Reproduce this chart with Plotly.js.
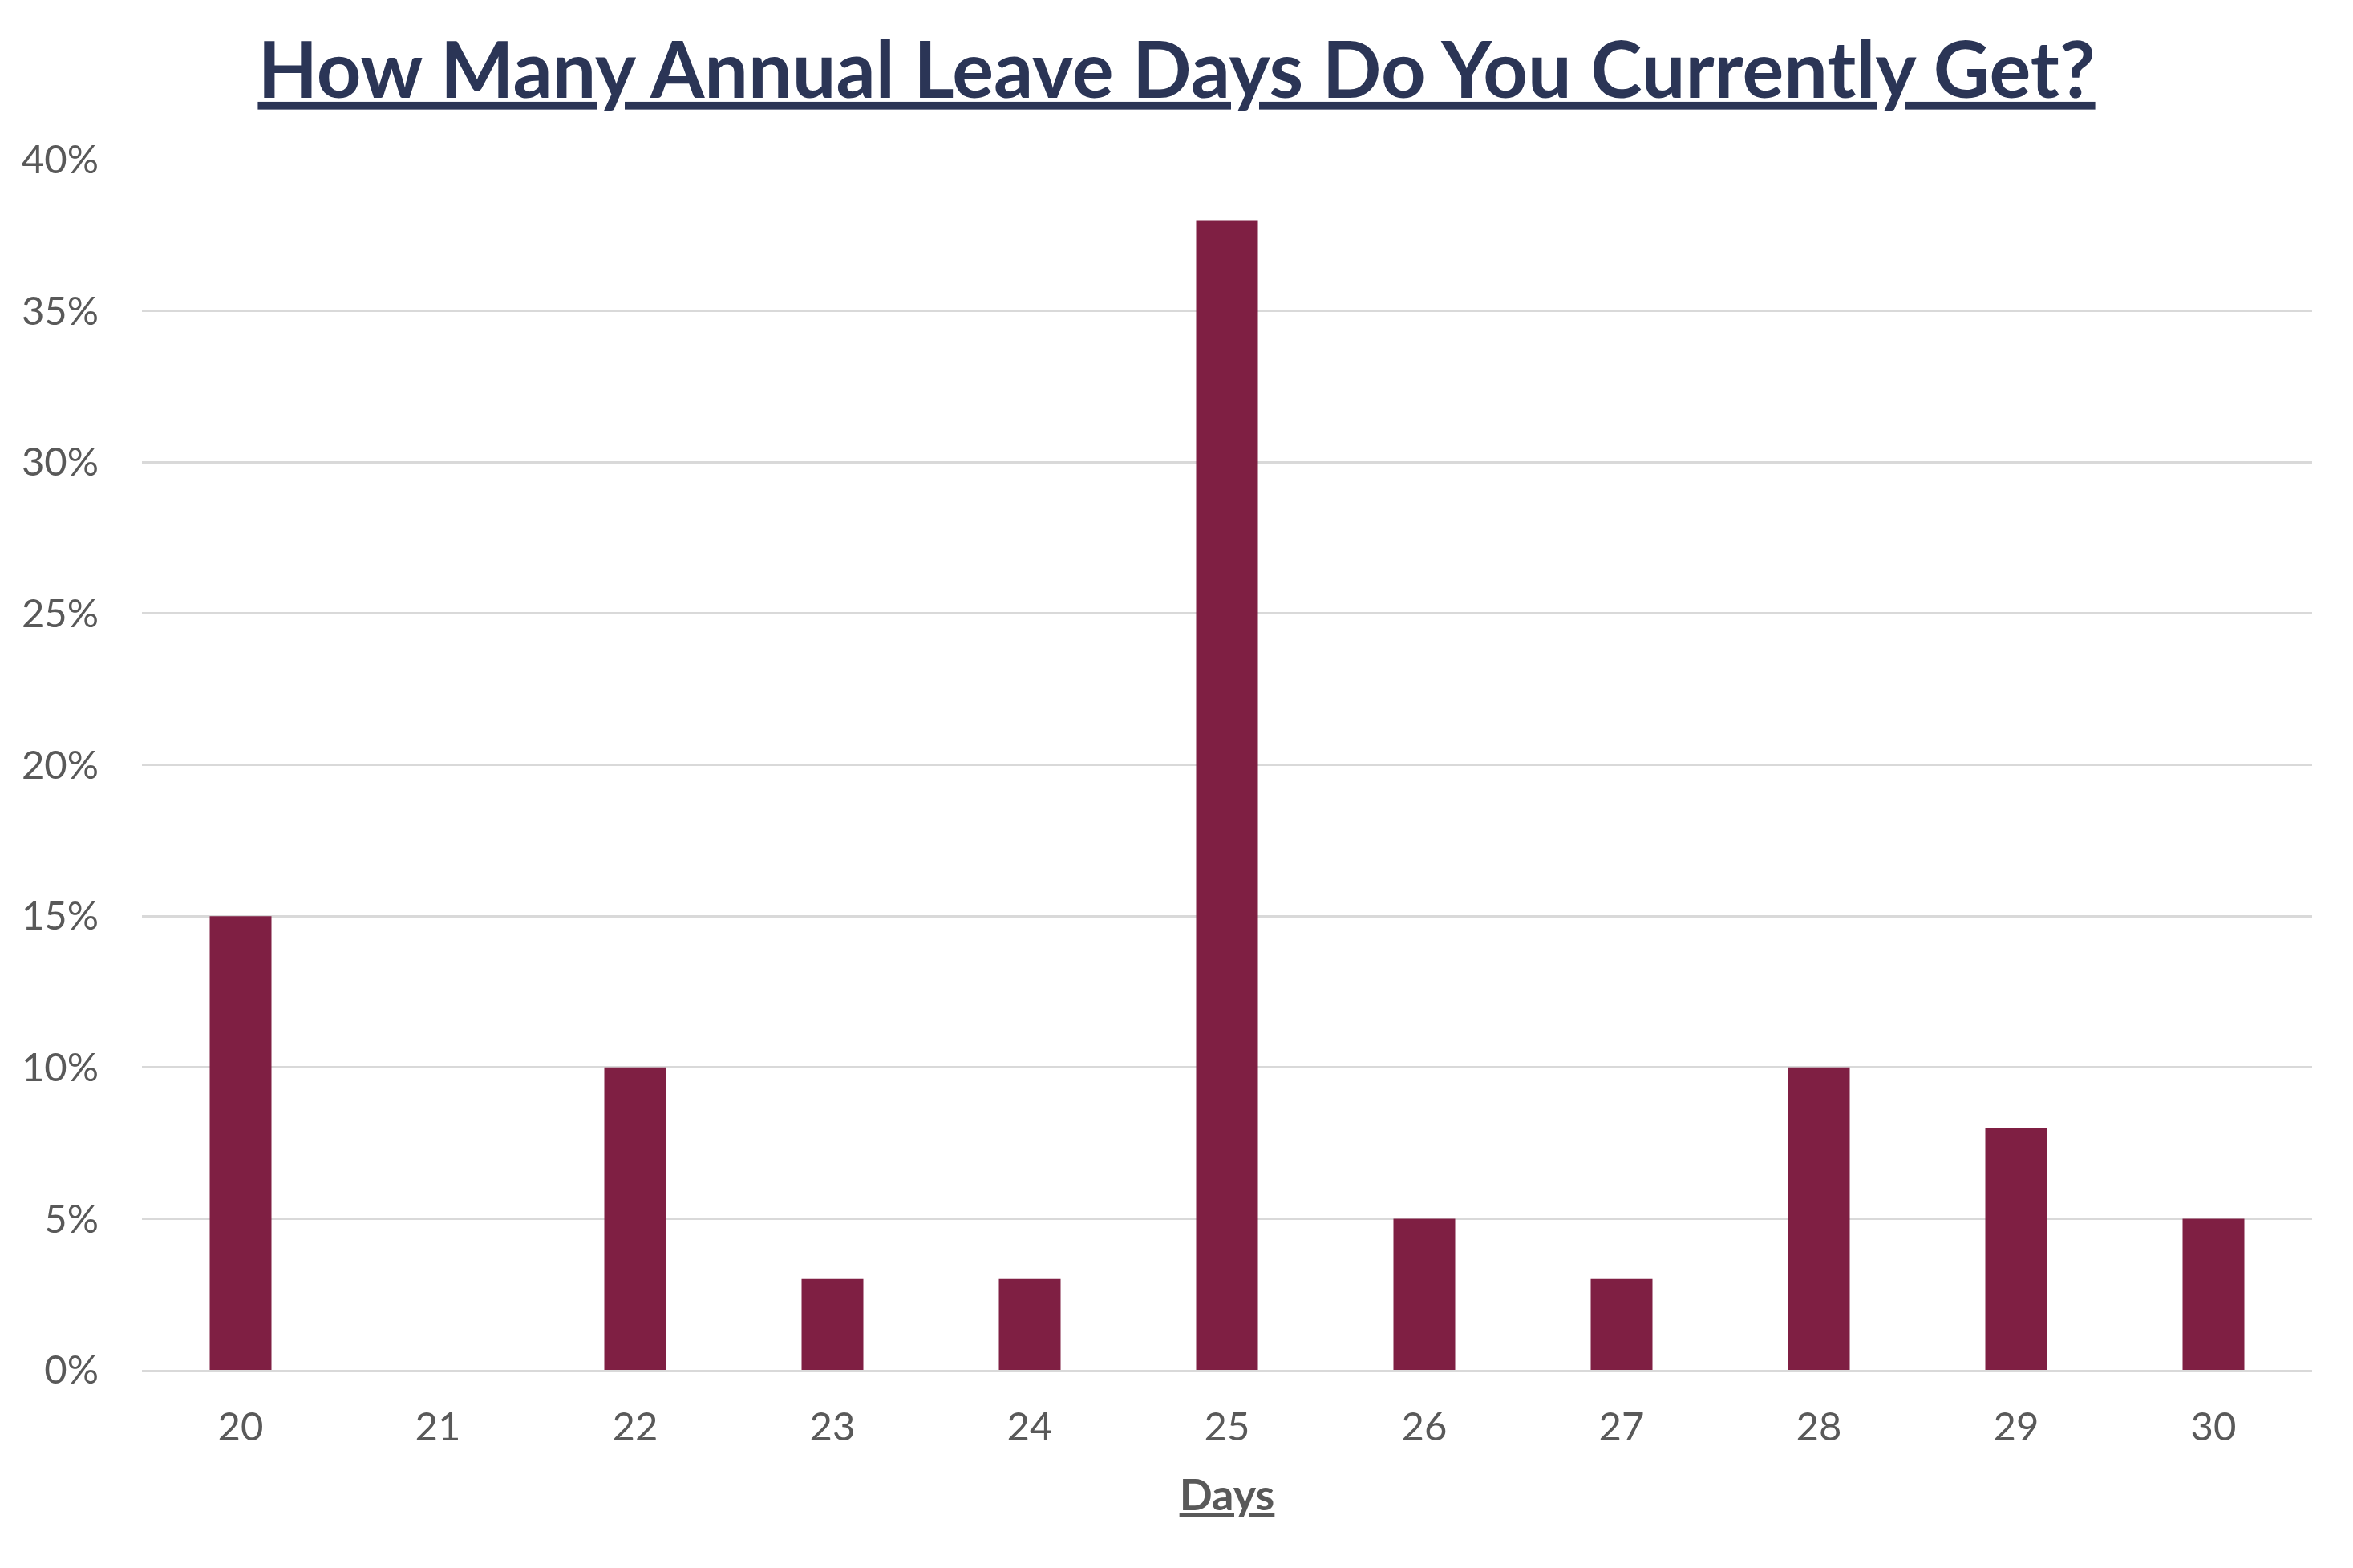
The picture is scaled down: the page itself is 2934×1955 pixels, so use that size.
<!DOCTYPE html>
<html>
<head>
<meta charset="utf-8">
<script src="https://cdn.plot.ly/plotly-3.0.1.min.js"></script>
<style>
  html, body { margin: 0; padding: 0; background: #ffffff; }
  #chart { width: 2934px; height: 1955px; }
</style>
</head>
<body>
<div id="chart"></div>
<script>

// Annual leave days and share of respondents (%)
const days = ["20", "21", "22", "23", "24", "25", "26", "27", "28", "29", "30"];
const share = [15, 0, 10, 3, 3, 38, 5, 3, 10, 8, 5];

// Y axis ticks
const ytickvals = [0, 5, 10, 15, 20, 25, 30, 35, 40];
const yticktext = ytickvals.map(v => v + "%");

const bar_col = "#7f1f43";
const text_col = "#595959";
const grid_col = "#d9d9d9";

let data = [{
  x: days,
  y: share,
  type: "bar",
  marker: { color: bar_col },
  hoverinfo: "x+y",
  showlegend: false
}];

let layout = {
  width: 2934,
  height: 1955,
  paper_bgcolor: "#ffffff",
  plot_bgcolor: "#ffffff",
  bargap: 0.687,
  font: { family: "Lato, 'Open Sans', sans-serif", color: text_col },
  title: {
    text: "<u>How Many Annual Leave Days Do You Currently Get?</u>",
    font: { family: "Lato, 'Open Sans', sans-serif", size: 97, color: "#2b3556", weight: 700 },
    x: 0.5,
    xanchor: "center",
    yref: "container",
    y: 1 - 88 / 1955,
    yanchor: "middle"
  },
  xaxis: {
    type: "category",
    categoryorder: "array",
    categoryarray: days,
    range: [-0.5, days.length - 0.5],
    showgrid: false,
    showline: true,
    linecolor: grid_col,
    linewidth: 3,
    zeroline: false,
    ticks: "",
    tickfont: { size: 49, color: text_col },
    ticklabelstandoff: 26,
    fixedrange: true,
    title: {
      text: "<u>Days</u>",
      font: { size: 54, color: text_col, weight: 700 },
      standoff: 41
    }
  },
  yaxis: {
    range: [0, 40],
    tickmode: "array",
    tickvals: ytickvals,
    ticktext: yticktext,
    showgrid: true,
    gridcolor: grid_col,
    gridwidth: 3,
    zeroline: false,
    showline: false,
    ticks: "",
    tickfont: { size: 49, color: text_col },
    ticklabelstandoff: 53,
    fixedrange: true
  },
  margin: { l: 177, r: 51, t: 199, b: 247 }
};

Plotly.newPlot("chart", data, layout, { displayModeBar: false, staticPlot: true });

</script>
</body>
</html>
